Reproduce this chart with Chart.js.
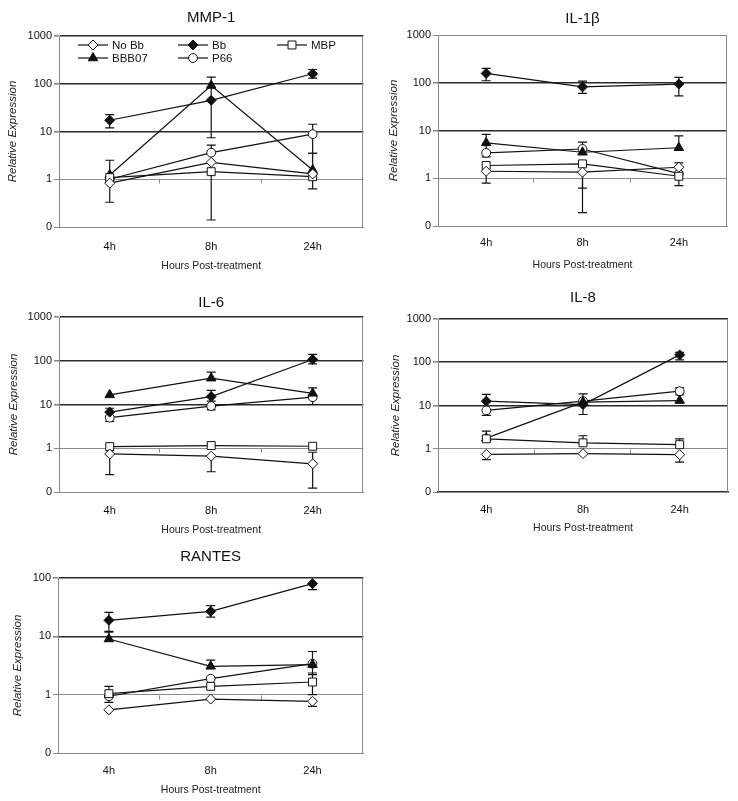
<!DOCTYPE html>
<html>
<head>
<meta charset="utf-8">
<script src="https://cdn.jsdelivr.net/npm/chart.js@4.4.0/dist/chart.umd.min.js"></script>
<style>
  body { margin: 0; background: #fff; }
  .panel { position: absolute; }
</style>
</head>
<body>
<div class="panel" style="left:0;top:0;width:370px;height:276px"><canvas id="c1"></canvas></div>
<div class="panel" style="left:370px;top:0;width:368px;height:275px"><canvas id="c2"></canvas></div>
<div class="panel" style="left:0;top:280px;width:370px;height:260px"><canvas id="c3"></canvas></div>
<div class="panel" style="left:370px;top:280px;width:368px;height:260px"><canvas id="c4"></canvas></div>
<div class="panel" style="left:0;top:540px;width:370px;height:261px"><canvas id="c5"></canvas></div>
<script>
const hours = ['4h', '8h', '24h']
const seriesNames = ['No Bb', 'Bb', 'MBP', 'BBB07', 'P66']
const yTicks = [0.1, 1, 10, 100, 1000]

// MMP-1  (value, upper end of error bar, lower end of error bar)
const mmpNoBb = [0.83, 2.26, 1.29], mmpNoBbHi = [null, null, null], mmpNoBbLo = [0.33, null, null]
const mmpBb = [17.2, 45, 162], mmpBbHi = [22.6, 83, 199], mmpBbLo = [11.9, 7.4, 131]
const mmpMbp = [1.08, 1.44, 1.13], mmpMbpHi = [null, null, null], mmpMbpLo = [null, 0.14, 0.63]
const mmpBbb07 = [1.23, 92, 1.56], mmpBbb07Hi = [2.5, 137, 3.5], mmpBbb07Lo = [null, null, null]
const mmpP66 = [1.0, 3.6, 8.8], mmpP66Hi = [null, 5.2, 14.2], mmpP66Lo = [null, null, 3.5]

// IL-1b
const il1NoBb = [1.4, 1.34, 1.7], il1NoBbHi = [null, null, null], il1NoBbLo = [0.79, 0.19, null]
const il1Bb = [157, 82, 94], il1BbHi = [200, 108, 130], il1BbLo = [110, 60, 53]
const il1Mbp = [1.85, 2.0, 1.1], il1MbpHi = [null, null, 2.1], il1MbpLo = [null, 0.62, 0.7]
const il1Bbb07 = [5.5, 3.5, 4.35], il1Bbb07Hi = [8.3, null, 7.7], il1Bbb07Lo = [2.8, null, null]
const il1P66 = [3.4, 4.1, 1.25], il1P66Hi = [null, 5.7, null], il1P66Lo = [null, null, null]

// IL-6
const il6NoBb = [0.74, 0.66, 0.44], il6NoBbHi = [null, null, 0.81], il6NoBbLo = [0.25, 0.29, 0.123]
const il6Bb = [6.7, 15.2, 107], il6BbHi = [8.2, 21, 140], il6BbLo = [null, 12, 85]
const il6Mbp = [1.09, 1.15, 1.11], il6MbpHi = [null, null, null], il6MbpLo = [null, null, null]
const il6Bbb07 = [16.6, 40, 18], il6Bbb07Hi = [null, 55, 24], il6Bbb07Lo = [null, null, null]
const il6P66 = [5.0, 9.2, 14.7], il6P66Hi = [null, null, null], il6P66Lo = [4.1, 7.5, 10.0]

// IL-8
const il8NoBb = [0.74, 0.77, 0.73], il8NoBbHi = [null, null, null], il8NoBbLo = [0.56, null, 0.49]
const il8Bb = [12.6, 10.5, 148], il8BbHi = [18, null, 170], il8BbLo = [null, 6.2, 113]
const il8Mbp = [1.7, 1.37, 1.24], il8MbpHi = [null, 2.0, 1.7], il8MbpLo = [null, null, null]
const il8Bbb07 = [1.76, 12, 13], il8Bbb07Hi = [2.55, null, null], il8Bbb07Lo = [null, null, null]
const il8P66 = [7.7, 12.6, 21.4], il8P66Hi = [null, 18.6, 25.6], il8P66Lo = [5.9, null, 17.6]

// RANTES
const ranNoBb = [0.55, 0.84, 0.77], ranNoBbHi = [null, null, null], ranNoBbLo = [null, null, 0.63]
const ranBb = [18.8, 26.8, 80], ranBbHi = [25.8, 33.6, null], ranBbLo = [12.2, 21.4, 63]
const ranMbp = [1.04, 1.39, 1.65], ranMbpHi = [1.39, null, 2.35], ranMbpLo = [null, null, 1.0]
const ranBbb07 = [9.0, 3.06, 3.27], ranBbb07Hi = [11.8, 3.9, null], ranBbb07Lo = [null, null, 2.2]
const ranP66 = [0.94, 1.88, 3.4], ranP66Hi = [null, null, 5.5], ranP66Lo = [0.74, null, null]

const markers = [
    { pointStyle: 'rectRot', fill: '#fff', radius: 5 },
    { pointStyle: 'rectRot', fill: '#111', radius: 5 },
    { pointStyle: 'rect', fill: '#fff', radius: 5.6 },
    { pointStyle: 'triangle', fill: '#111', radius: 5.5 },
    { pointStyle: 'circle', fill: '#fff', radius: 4.4 }
]

const font = '"Liberation Sans", Arial, sans-serif'

const errorBars = {
    id: 'errorBars',
    beforeDatasetsDraw(chart) {
        const ctx = chart.ctx
        const y = chart.scales.y
        ctx.save()
        ctx.strokeStyle = '#111'
        ctx.lineWidth = 1.2
        chart.data.datasets.forEach((ds, i) => {
            chart.getDatasetMeta(i).data.forEach((pt, j) => {
                [ds.errHi[j], ds.errLo[j]].forEach(b => {
                    if (b == null) return
                    const yb = y.getPixelForValue(b)
                    ctx.beginPath()
                    ctx.moveTo(pt.x, pt.y)
                    ctx.lineTo(pt.x, yb)
                    ctx.moveTo(pt.x - 4.5, yb)
                    ctx.lineTo(pt.x + 4.5, yb)
                    ctx.stroke()
                })
            })
        })
        ctx.restore()
    }
}

const frame = {
    id: 'frame',
    beforeDatasetsDraw(chart) {
        const { ctx, chartArea: a, scales: { x, y } } = chart
        ctx.save()
        ctx.strokeStyle = '#888'
        ctx.lineWidth = 1
        ctx.beginPath()
        ctx.moveTo(Math.round(a.right) - 0.5, a.top)
        ctx.lineTo(Math.round(a.right) - 0.5, a.bottom)
        // small tick marks on the 1-line between categories
        const y1 = Math.round(y.getPixelForValue(1)) + 0.5
        const step = (a.right - a.left) / x.ticks.length
        for (let i = 1; i <= x.ticks.length; i++) {
            const xb = Math.round(a.left + step * i) - 0.5
            ctx.moveTo(xb, y1)
            ctx.lineTo(xb, y1 + 4)
        }
        ctx.stroke()
        ctx.restore()
    }
}

const panelTitle = {
    id: 'panelTitle',
    afterDraw(chart, args, opts) {
        const { ctx, chartArea: a } = chart
        ctx.save()
        ctx.font = '15px ' + font
        ctx.fillStyle = '#111'
        ctx.textAlign = 'center'
        ctx.textBaseline = 'middle'
        ctx.fillText(opts.text, (a.left + a.right) / 2, opts.y)
        ctx.restore()
    }
}

const insideLegend = {
    id: 'insideLegend',
    afterDatasetsDraw(chart, args, opts) {
        if (!opts.show) return
        const { ctx, chartArea: a } = chart
        const cols = [19, 119, 218]
        const rows = [9, 22]
        ctx.save()
        chart.data.datasets.forEach((ds, i) => {
            const x0 = a.left + cols[i % 3]
            const y0 = a.top + rows[Math.floor(i / 3)]
            ctx.strokeStyle = '#111'
            ctx.lineWidth = 1.2
            ctx.beginPath()
            ctx.moveTo(x0, y0)
            ctx.lineTo(x0 + 30, y0)
            ctx.stroke()
            ctx.fillStyle = ds.pointBackgroundColor
            ctx.lineWidth = 1
            Chart.helpers.drawPoint(ctx, {
                pointStyle: ds.pointStyle, radius: ds.pointRadius, rotation: 0, borderWidth: 1
            }, x0 + 15, y0)
            ctx.fillStyle = '#111'
            ctx.font = '11.5px ' + font
            ctx.textAlign = 'left'
            ctx.textBaseline = 'middle'
            ctx.fillText(ds.label, x0 + 34, y0 + 0.5)
        })
        ctx.restore()
    }
}

function makeChart(p) {
    const datasets = p.values.map((vals, i) => ({
        label: seriesNames[i],
        data: vals,
        errHi: p.his[i],
        errLo: p.los[i],
        borderColor: '#111',
        borderWidth: 1.2,
        pointStyle: markers[i].pointStyle,
        pointRadius: markers[i].radius,
        pointBackgroundColor: markers[i].fill,
        pointBorderColor: '#111',
        pointBorderWidth: 1,
        tension: 0,
        fill: false
    }))

    return new Chart(document.getElementById(p.id), {
        type: 'line',
        data: { labels: hours, datasets: datasets },
        plugins: [errorBars, frame, panelTitle, insideLegend],
        options: {
            responsive: true,
            maintainAspectRatio: false,
            animation: false,
            layout: { padding: { top: p.padTop, right: p.padRight, left: 0, bottom: 0 } },
            plugins: {
                legend: { display: false },
                tooltip: { enabled: false },
                panelTitle: { text: p.title, y: p.titleY },
                insideLegend: { show: !!p.legend }
            },
            scales: {
                x: {
                    offset: true,
                    grid: { display: false },
                    border: { color: p.bottomDark ? '#2b2b2b' : '#888', width: p.bottomDark ? 1.6 : 1 },
                    ticks: { color: '#111', font: { size: 11, family: font }, padding: p.xTickPad },
                    title: {
                        display: true,
                        text: 'Hours Post-treatment',
                        color: '#222',
                        font: { size: 10.5, family: font },
                        padding: { top: 0, bottom: p.xTitlePad }
                    },
                    afterFit: s => { s.height = p.xHeight }
                },
                y: {
                    type: 'logarithmic',
                    min: 0.1,
                    max: p.yMax,
                    afterBuildTicks: s => { s.ticks = yTicks.filter(v => v <= p.yMax).map(v => ({ value: v })) },
                    afterFit: s => { s.width = p.yWidth },
                    border: { color: '#888' },
                    grid: {
                        color: c => {
                            const v = c.tick ? c.tick.value : 0
                            if (v >= 10 && (v < p.yMax || p.topDark)) return '#2b2b2b'
                            if (v >= 10) return '#888'
                            if (v === 1) return '#8c8c8c'
                            return 'rgba(0,0,0,0)'
                        },
                        lineWidth: c => {
                            const v = c.tick ? c.tick.value : 0
                            return v >= 10 && (v < p.yMax || p.topDark) ? 1.6 : 1
                        },
                        tickColor: '#888',
                        tickLength: 5
                    },
                    ticks: {
                        color: '#111',
                        font: { size: 11, family: font },
                        padding: 2,
                        callback: v => v < 1 ? '0' : String(v)
                    },
                    title: {
                        display: true,
                        text: 'Relative Expression',
                        color: '#222',
                        font: { size: 11.5, style: 'italic', family: font },
                        padding: { top: p.yTitlePad, bottom: 0 }
                    }
                }
            }
        }
    })
}

makeChart({
    id: 'c1', title: 'MMP-1', titleY: 18, yMax: 1000, legend: true, topDark: true,
    values: [mmpNoBb, mmpBb, mmpMbp, mmpBbb07, mmpP66],
    his: [mmpNoBbHi, mmpBbHi, mmpMbpHi, mmpBbb07Hi, mmpP66Hi],
    los: [mmpNoBbLo, mmpBbLo, mmpMbpLo, mmpBbb07Lo, mmpP66Lo],
    padTop: 36, padRight: 2, yWidth: 59, yTitlePad: 6, xHeight: 49, xTickPad: 5, xTitlePad: 4
})

makeChart({
    id: 'c2', title: 'IL-1\u03b2', titleY: 19, yMax: 1000, topDark: false,
    values: [il1NoBb, il1Bb, il1Mbp, il1Bbb07, il1P66],
    his: [il1NoBbHi, il1BbHi, il1MbpHi, il1Bbb07Hi, il1P66Hi],
    los: [il1NoBbLo, il1BbLo, il1MbpLo, il1Bbb07Lo, il1P66Lo],
    padTop: 35, padRight: 11, yWidth: 68, yTitlePad: 17, xHeight: 49, xTickPad: 2, xTitlePad: 4
})

makeChart({
    id: 'c3', title: 'IL-6', titleY: 23, yMax: 1000, topDark: true,
    values: [il6NoBb, il6Bb, il6Mbp, il6Bbb07, il6P66],
    his: [il6NoBbHi, il6BbHi, il6MbpHi, il6Bbb07Hi, il6P66Hi],
    los: [il6NoBbLo, il6BbLo, il6MbpLo, il6Bbb07Lo, il6P66Lo],
    padTop: 37, padRight: 1, yWidth: 59, yTitlePad: 7, xHeight: 48, xTickPad: 4, xTitlePad: 4
})

makeChart({
    id: 'c4', title: 'IL-8', titleY: 18, yMax: 1000, topDark: true, bottomDark: true,
    values: [il8NoBb, il8Bb, il8Mbp, il8Bbb07, il8P66],
    his: [il8NoBbHi, il8BbHi, il8MbpHi, il8Bbb07Hi, il8P66Hi],
    los: [il8NoBbLo, il8BbLo, il8MbpLo, il8Bbb07Lo, il8P66Lo],
    padTop: 39, padRight: 10, yWidth: 68, yTitlePad: 19, xHeight: 48, xTickPad: 3, xTitlePad: 6
})

makeChart({
    id: 'c5', title: 'RANTES', titleY: 17, yMax: 100, topDark: true,
    values: [ranNoBb, ranBb, ranMbp, ranBbb07, ranP66],
    his: [ranNoBbHi, ranBbHi, ranMbpHi, ranBbb07Hi, ranP66Hi],
    los: [ranNoBbLo, ranBbLo, ranMbpLo, ranBbb07Lo, ranP66Lo],
    padTop: 38, padRight: 1, yWidth: 58, yTitlePad: 11, xHeight: 48, xTickPad: 3, xTitlePad: 5
})
</script>
</body>
</html>
